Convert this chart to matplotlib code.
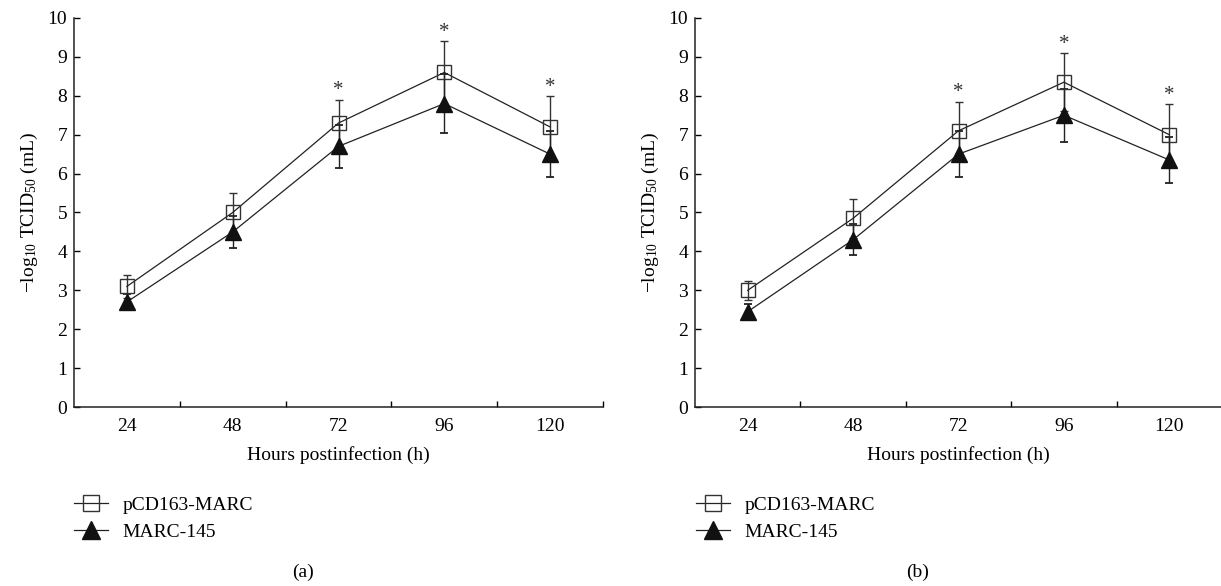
import matplotlib.pyplot as plt
from matplotlib.lines import Line2D

plt.rcParams['font.family'] = ['Liberation Serif', 'DejaVu Serif']
plt.rcParams['mathtext.fontset'] = 'custom'
plt.rcParams['mathtext.rm'] = 'Liberation Serif'
plt.rcParams['mathtext.it'] = 'Liberation Serif:italic'

hours = ['24', '48', '72', '96', '120']

# panel (a)
a_pcd = [3.1, 5.0, 7.3, 8.6, 7.2]
a_pcd_err = [0.3, 0.5, 0.6, 0.8, 0.8]
a_marc = [2.7, 4.5, 6.7, 7.8, 6.5]
a_marc_err = [0.2, 0.4, 0.55, 0.75, 0.6]

# panel (b)
b_pcd = [3.0, 4.85, 7.1, 8.35, 7.0]
b_pcd_err = [0.25, 0.5, 0.75, 0.75, 0.78]
b_marc = [2.45, 4.3, 6.5, 7.5, 6.35]
b_marc_err = [0.2, 0.4, 0.6, 0.68, 0.6]

# significance marks (index of hour)
signif = [2, 3, 4]

fs = 14
W, H = 1221, 586
fig = plt.figure(figsize=(W / 100, H / 100), dpi=100)


def draw(ax, pcd, pcd_err, marc, marc_err):
    x = list(range(len(hours)))
    ax.errorbar(x, pcd, yerr=pcd_err, fmt='none', ecolor='#333333',
                elinewidth=1.0, capsize=3, capthick=1.0, zorder=2)
    ax.errorbar(x, marc, yerr=marc_err, fmt='none', ecolor='#222222',
                elinewidth=1.0, capsize=3, capthick=1.3, zorder=2)
    ax.plot(x, pcd, color='#222222', lw=0.9, marker='s', ms=10,
            mfc='none', mec='#333333', mew=1.0, zorder=3)
    ax.plot(x, marc, color='#222222', lw=0.9, marker='^', ms=12,
            mfc='#111111', mec='#111111', zorder=3)
    for i in signif:
        ax.text(i, pcd[i] + pcd_err[i] - 0.02, '*', ha='center', va='bottom',
                fontsize=fs + 1, color='#333333')

    ax.set_xlim(-0.5, len(hours) - 0.5)
    ax.set_ylim(0, 10)
    ax.set_yticks(range(0, 11))
    ax.set_xticks(x)
    ax.set_xticklabels(hours)
    ax.set_xticks([i + 0.5 for i in range(len(hours))], minor=True)
    ax.tick_params(axis='x', which='major', length=0, pad=8, labelsize=fs)
    ax.tick_params(axis='x', which='minor', direction='in', length=4, width=1)
    ax.tick_params(axis='y', direction='in', length=4, width=1, pad=5, labelsize=fs)
    for s in ['top', 'right']:
        ax.spines[s].set_visible(False)
    for s in ['left', 'bottom']:
        ax.spines[s].set_linewidth(1.1)
        ax.spines[s].set_color('#222222')
    ax.set_xlabel('Hours postinfection (h)', fontsize=fs, labelpad=8)
    ax.set_ylabel(r'$-$log$_{10}$ TCID$_{50}$ (mL)', fontsize=fs, labelpad=5)


ax1 = fig.add_axes([74 / W, 1 - 407 / H, (603 - 74) / W, (407 - 18) / H])
draw(ax1, a_pcd, a_pcd_err, a_marc, a_marc_err)
ax2 = fig.add_axes([695 / W, 1 - 407 / H, (1222 - 695) / W, (407 - 18) / H])
draw(ax2, b_pcd, b_pcd_err, b_marc, b_marc_err)

handles = [
    Line2D([], [], color='#222222', lw=0.9, marker='s', ms=11, mfc='none', mec='#333333'),
    Line2D([], [], color='#222222', lw=0.9, marker='^', ms=13, mfc='#111111', mec='#111111'),
]
labels = ['pCD163-MARC', 'MARC-145']
for left in [74, 696]:
    fig.legend(handles, labels, loc='upper left', bbox_to_anchor=(left / W, 1 - 496 / H),
               frameon=False, fontsize=fs, handlelength=1.75, handletextpad=0.75,
               labelspacing=0.5, borderpad=0, borderaxespad=0)

fig.text(303 / W, 1 - 572 / H, '(a)', ha='center', va='center', fontsize=fs)
fig.text(918 / W, 1 - 572 / H, '(b)', ha='center', va='center', fontsize=fs)

fig.savefig('out.png', dpi=100)
